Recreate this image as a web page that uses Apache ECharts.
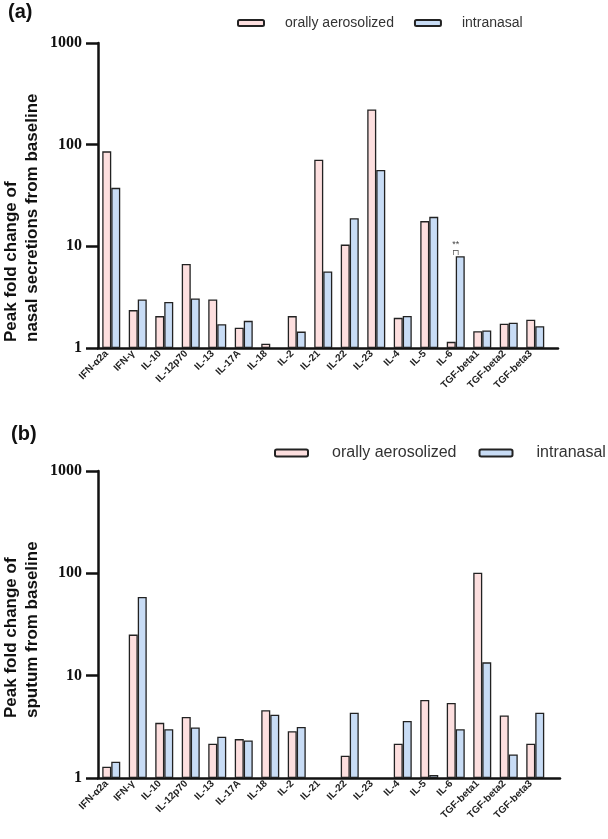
<!DOCTYPE html>
<html>
<head>
<meta charset="utf-8">
<script src="https://cdn.jsdelivr.net/npm/echarts@6/dist/echarts.min.js"></script>
<style>
html, body { margin: 0; padding: 0; background: #fff; }
#chart { width: 608px; height: 839px; }
</style>
</head>
<body>
<div id="chart"></div>
<script>
var cytokines = ['IFN-α2a', 'IFN-γ', 'IL-10', 'IL-12p70', 'IL-13', 'IL-17A', 'IL-18', 'IL-2', 'IL-21',
    'IL-22', 'IL-23', 'IL-4', 'IL-5', 'IL-6', 'TGF-beta1', 'TGF-beta2', 'TGF-beta3'];
var groups = ['orally aerosolized', 'intranasal'];
var yRange = [1, 1000];

// (a) nasal secretions
var nasalOral = [86, 2.36, 2.06, 6.7, 3.0, 1.58, 1.10, 2.06, 71, 10.4, 222, 1.98, 17.7, 1.15, 1.46, 1.73, 1.9];
var nasalIntranasal = [37.6, 3.0, 2.84, 3.07, 1.71, 1.85, null, 1.45, 5.65, 18.9, 56.5, 2.07, 19.5, 7.98, 1.49, 1.77, 1.64];
var nasalSignificant = 'IL-6';

// (b) sputum
var sputumOral = [1.29, 25.2, 3.46, 3.94, 2.16, 2.40, 4.6, 2.87, null, 1.65, null, 2.16, 5.8, 5.4, 101.6, 4.09, 2.16];
var sputumIntranasal = [1.44, 58.7, 3.0, 3.12, 2.53, 2.33, 4.15, 3.15, null, 4.34, null, 3.6, 1.07, 2.99, 13.5, 1.70, 4.34];

var ink = '#111';
var pink = '#FDDFDF';
var blue = '#C8DCF5';

var grids = [], xAxes = [], yAxes = [], series = [];

function panel(top, bottom, frameRight, oral, intra, starAt) {
    var g = grids.length;
    // bars, tick/labels (shifted so ticks sit under the pink bar), axis frame
    grids.push({left: 98, right: 59.5, top: top, bottom: bottom});
    grids.push({left: 93.5, right: 64, top: top, bottom: bottom});
    grids.push({left: 98, right: frameRight, top: top, bottom: bottom});

    xAxes.push({gridIndex: g, type: 'category', data: cytokines, show: false});
    xAxes.push({
        gridIndex: g + 1, type: 'category', data: cytokines,
        axisLine: {show: false, onZero: false},
        axisTick: {alignWithLabel: true, interval: 0, length: 10, lineStyle: {color: ink, width: 2.5}},
        axisLabel: {interval: 0, rotate: 45, margin: 4, fontSize: 10, fontWeight: 'bold',
            fontFamily: 'Liberation Sans', color: '#222'}
    });
    xAxes.push({
        gridIndex: g + 2, type: 'value', min: 0, max: 1,
        axisLine: {show: true, onZero: false, lineStyle: {color: ink, width: 2.5}},
        axisTick: {show: false}, axisLabel: {show: false}, splitLine: {show: false}
    });

    yAxes.push({gridIndex: g, type: 'log', logBase: 10, min: yRange[0], max: yRange[1], show: false});
    yAxes.push({gridIndex: g + 1, type: 'value', show: false});
    yAxes.push({
        gridIndex: g + 2, type: 'log', logBase: 10, min: yRange[0], max: yRange[1],
        axisLine: {show: true, onZero: false, lineStyle: {color: ink, width: 2.5}},
        axisTick: {show: true, inside: false, interval: 0, length: 12, lineStyle: {color: ink, width: 2.5}},
        axisLabel: {margin: 16, fontSize: 16, fontWeight: 'bold', fontFamily: 'Liberation Serif', color: ink,
            formatter: function(v) { return String(Math.round(v)); }},
        splitLine: {show: false}
    });

    var intraData = intra.map(function(v, i) {
        if (cytokines[i] !== starAt) return v;
        return {
            value: v,
            label: {
                show: true, position: 'top', distance: 2, offset: [-4.5, 0],
                formatter: '{s|**}\n{b|┌┐}',
                rich: {
                    s: {fontSize: 9, color: '#444', lineHeight: 5, fontFamily: 'Liberation Sans'},
                    b: {fontSize: 8, color: '#444', lineHeight: 7, fontFamily: 'DejaVu Sans Mono'}
                }
            }
        };
    });

    series.push({
        name: groups[0], type: 'bar', xAxisIndex: g, yAxisIndex: g,
        barWidth: 9, barGap: '0%', data: oral,
        itemStyle: {color: pink, borderColor: '#222', borderWidth: 1.3}
    });
    series.push({
        name: groups[1], type: 'bar', xAxisIndex: g, yAxisIndex: g,
        barWidth: 9, barGap: '0%', data: intraData,
        itemStyle: {color: blue, borderColor: '#222', borderWidth: 1.3}
    });
}

panel(43, 491, 50, nasalOral, nasalIntranasal, nasalSignificant);
panel(471, 61, 48, sputumOral, sputumIntranasal, null);

function yTitle(text, y) {
    return {
        type: 'text', x: 1, y: y, rotation: Math.PI / 2,
        style: {
            text: text, fill: '#111', font: 'bold 17px "Liberation Sans"',
            fontSize: 17, fontWeight: 'bold', fontFamily: 'Liberation Sans', lineHeight: 21,
            align: 'left', verticalAlign: 'top', textAlign: 'left', textVerticalAlign: 'top'
        }
    };
}

var chart = echarts.init(document.getElementById('chart'));
chart.setOption({
    animation: false,
    backgroundColor: '#fff',
    grid: grids,
    xAxis: xAxes,
    yAxis: yAxes,
    legend: [
        {
            data: groups, left: 232, top: 11, width: 380, icon: 'roundRect',
            itemWidth: 26, itemHeight: 6, itemGap: 20, selectedMode: false,
            textStyle: {fontSize: 14, color: '#333', fontFamily: 'Liberation Sans', padding: [0, 0, 0, 16]}
        },
        {
            data: groups, left: 269, top: 440, width: 380, icon: 'roundRect',
            itemWidth: 33, itemHeight: 7, itemGap: 22, selectedMode: false,
            textStyle: {fontSize: 16, color: '#333', fontFamily: 'Liberation Sans', padding: [0, 0, 0, 19]}
        }
    ],
    graphic: [
        {type: 'text', left: 8, top: 2, style: {text: '(a)', fill: '#111', font: 'bold 20px "Liberation Sans"'}},
        {type: 'text', left: 11, top: 424, style: {text: '(b)', fill: '#111', font: 'bold 20px "Liberation Sans"'}},
        yTitle('Peak fold change of\nnasal secretions from baseline', 342),
        yTitle('Peak fold change of\nsputum from baseline', 718)
    ],
    series: series
});
</script>
</body>
</html>
